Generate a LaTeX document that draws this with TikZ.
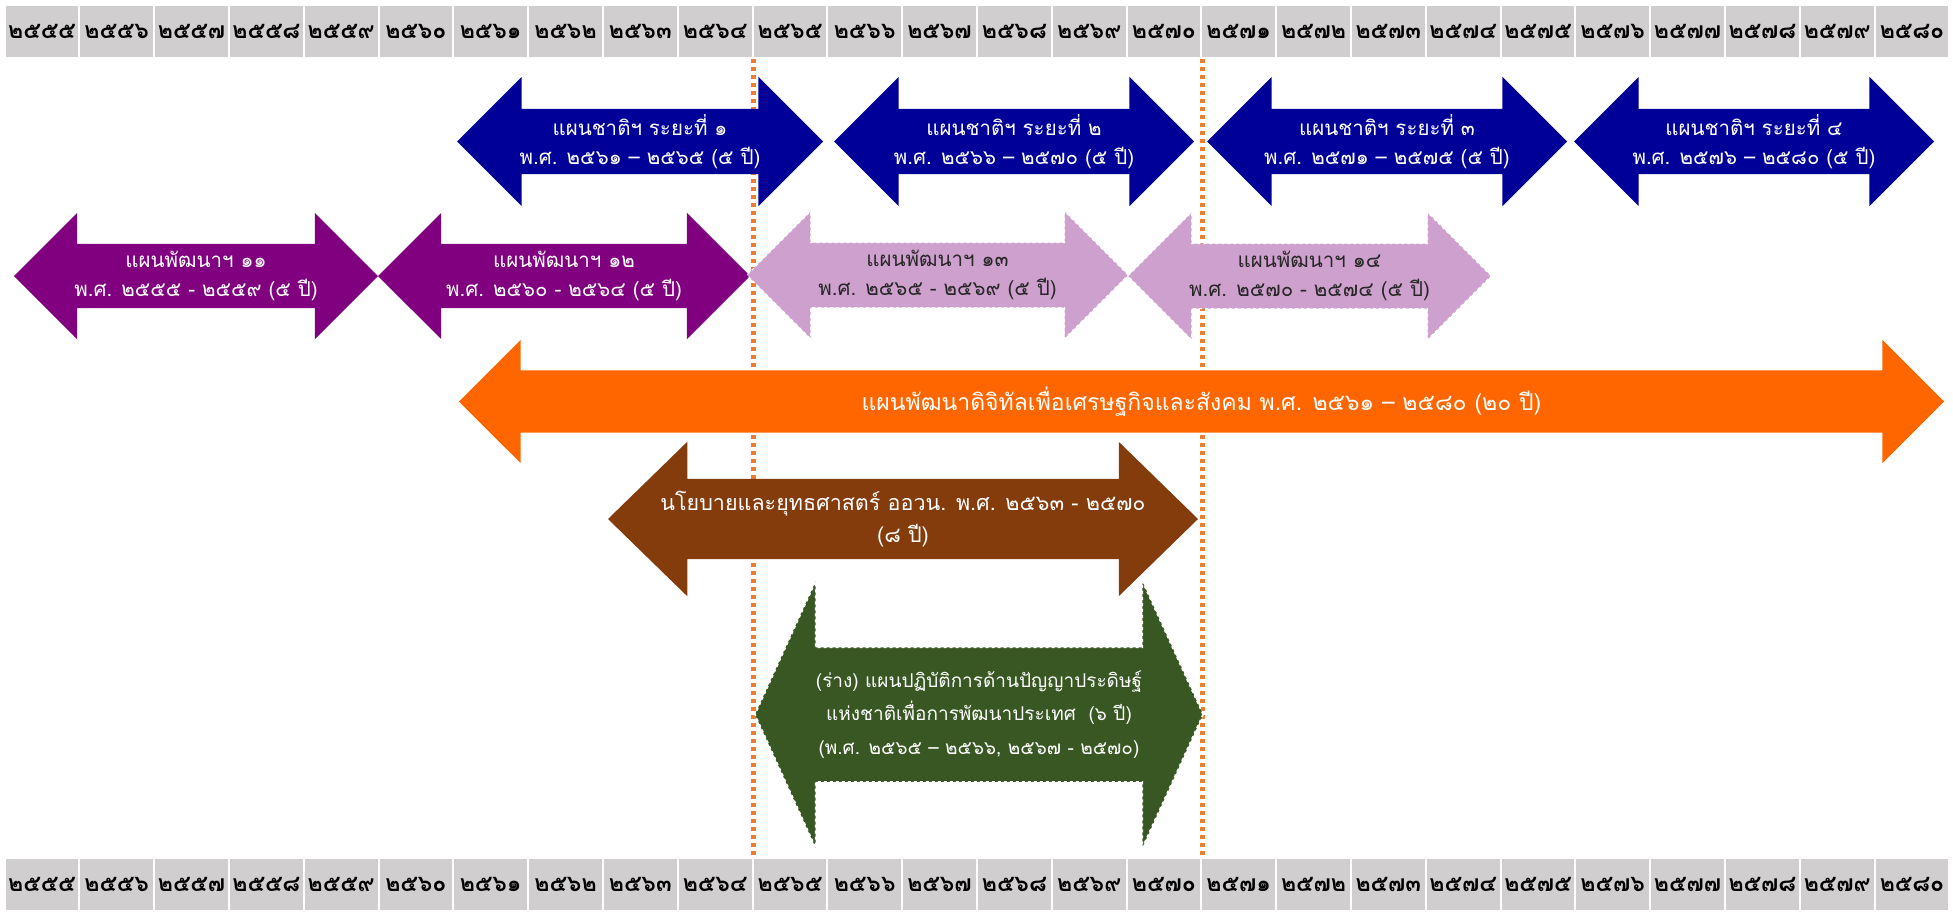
\documentclass[tikz,border=0pt]{standalone}
\usepackage{fontspec}
\setmainfont[Script=Thai]{Loma}
\usepackage{tikz}
\usetikzlibrary{shapes.arrows}
\definecolor{azulnac}{RGB}{0,0,153}
\definecolor{morado}{RGB}{128,0,128}
\definecolor{lila}{RGB}{206,160,206}
\definecolor{naranja}{RGB}{255,102,0}
\definecolor{cafe}{RGB}{132,60,12}
\definecolor{verde}{RGB}{56,87,35}
\definecolor{gris}{RGB}{208,206,206}
\definecolor{puntos}{RGB}{237,125,49}
\tikzstyle{celda} = [rectangle, fill=gris, draw=white, line width=2, minimum width=74.8, minimum height=53, inner sep=0pt, font=\bfseries\fontsize{23}{23}\selectfont]
\tikzstyle{guia} = [draw=puntos, line width=4.5, dash pattern=on 4 off 4]
\tikzstyle{flecha} = [double arrow, inner xsep=0pt, double arrow tip angle=90]
\tikzstyle{nac} = [flecha, fill=azulnac, inner ysep=32.5, double arrow head extend=32]
\tikzstyle{des} = [flecha, fill=morado, inner ysep=32, double arrow head extend=31]
\tikzstyle{deslila} = [des, fill=lila, draw=white, dashed, line width=1]
\tikzstyle{texto} = [align=center, inner sep=0pt, text=white, font=\fontsize{20.5}{29}\selectfont]

\begin{document}
\begin{tikzpicture}[x=1pt, y=-1pt]
	\useasboundingbox (0,0) rectangle (1953,911);
	\foreach \a [count=\i from 0] in {๒๕๕๕,๒๕๕๖,๒๕๕๗,๒๕๕๘,๒๕๕๙,๒๕๖๐,๒๕๖๑,๒๕๖๒,๒๕๖๓,๒๕๖๔,๒๕๖๕,๒๕๖๖,๒๕๖๗,๒๕๖๘,๒๕๖๙,๒๕๗๐,๒๕๗๑,๒๕๗๒,๒๕๗๓,๒๕๗๔,๒๕๗๕,๒๕๗๖,๒๕๗๗,๒๕๗๘,๒๕๗๙,๒๕๘๐} {
		\node[celda] (arr\i) at (41.9+74.8*\i, 31) {\a};
		\node[celda] (aba\i) at (41.9+74.8*\i, 884.5) {\a};
	}
	\draw[guia] (arr9.south east) -- (aba9.north east);
	\draw[guia] (arr15.south east) -- (aba15.north east);

	\node[nac, minimum height=366] (nac1) at (640,141.5) {};
	\node[nac, minimum height=360] (nac2) at (1014,141.5) {};
	\node[nac, minimum height=360] (nac3) at (1387,141.5) {};
	\node[nac, minimum height=360] (nac4) at (1754,141.5) {};
	\node[texto] (tnac1) at (nac1) {แผนชาติฯ ระยะที่ ๑\\พ.ศ. ๒๕๖๑ – ๒๕๖๕ (๕ ปี)};
	\node[texto] (tnac2) at (nac2) {แผนชาติฯ ระยะที่ ๒\\พ.ศ. ๒๕๖๖ – ๒๕๗๐ (๕ ปี)};
	\node[texto] (tnac3) at (nac3) {แผนชาติฯ ระยะที่ ๓\\พ.ศ. ๒๕๗๑ – ๒๕๗๕ (๕ ปี)};
	\node[texto] (tnac4) at (nac4) {แผนชาติฯ ระยะที่ ๔\\พ.ศ. ๒๕๗๖ – ๒๕๘๐ (๕ ปี)};

	\node[des, minimum height=364] (des11) at (196,276) {};
	\node[des, minimum height=372] (des12) at (564,276) {};
	\node[deslila, minimum height=381] (des13) at (937.5,275) {};
	\node[deslila, minimum height=363] (des14) at (1309.5,276) {};
	\node[texto] (tdes11) at (des11) {แผนพัฒนาฯ ๑๑\\พ.ศ. ๒๕๕๕ - ๒๕๕๙ (๕ ปี)};
	\node[texto] (tdes12) at (des12) {แผนพัฒนาฯ ๑๒\\พ.ศ. ๒๕๖๐ - ๒๕๖๔ (๕ ปี)};
	\node[texto, text=black!85] (tdes13) at (des13) {แผนพัฒนาฯ ๑๓\\พ.ศ. ๒๕๖๕ - ๒๕๖๙ (๕ ปี)};
	\node[texto, text=black!85] (tdes14) at (des14) {แผนพัฒนาฯ ๑๔\\พ.ศ. ๒๕๗๐ - ๒๕๗๔ (๕ ปี)};

	\node[flecha, fill=naranja, minimum height=1485, inner ysep=31, double arrow head extend=30.5] (dig) at (1201.5,401.5) {};
	\node[texto, font=\fontsize{23}{29}\selectfont] (tdig) at (dig) {แผนพัฒนาดิจิทัลเพื่อเศรษฐกิจและสังคม พ.ศ. ๒๕๖๑ – ๒๕๘๐ (๒๐ ปี)};

	\node[flecha, fill=cafe, minimum height=590, inner ysep=40, double arrow head extend=37, double arrow tip angle=88.5] (oawn) at (903,519) {};
	\node[texto, font=\fontsize{21.5}{32}\selectfont] (toawn) at (oawn) {นโยบายและยุทธศาสตร์ ออวน. พ.ศ. ๒๕๖๓ - ๒๕๗๐\\(๘ ปี)};

	\node[flecha, fill=verde, draw=white, dashed, line width=1.5, minimum height=448, inner ysep=66.5, double arrow head extend=66, double arrow tip angle=131] (ai) at (979,714.5) {};
	\node[texto, font=\fontsize{19}{33.5}\selectfont] (tai) at (ai) {(ร่าง) แผนปฏิบัติการด้านปัญญาประดิษฐ์\\แห่งชาติเพื่อการพัฒนาประเทศ\ \ (๖ ปี)\\(พ.ศ. ๒๕๖๕ – ๒๕๖๖, ๒๕๖๗ - ๒๕๗๐)};
\end{tikzpicture}
\end{document}
